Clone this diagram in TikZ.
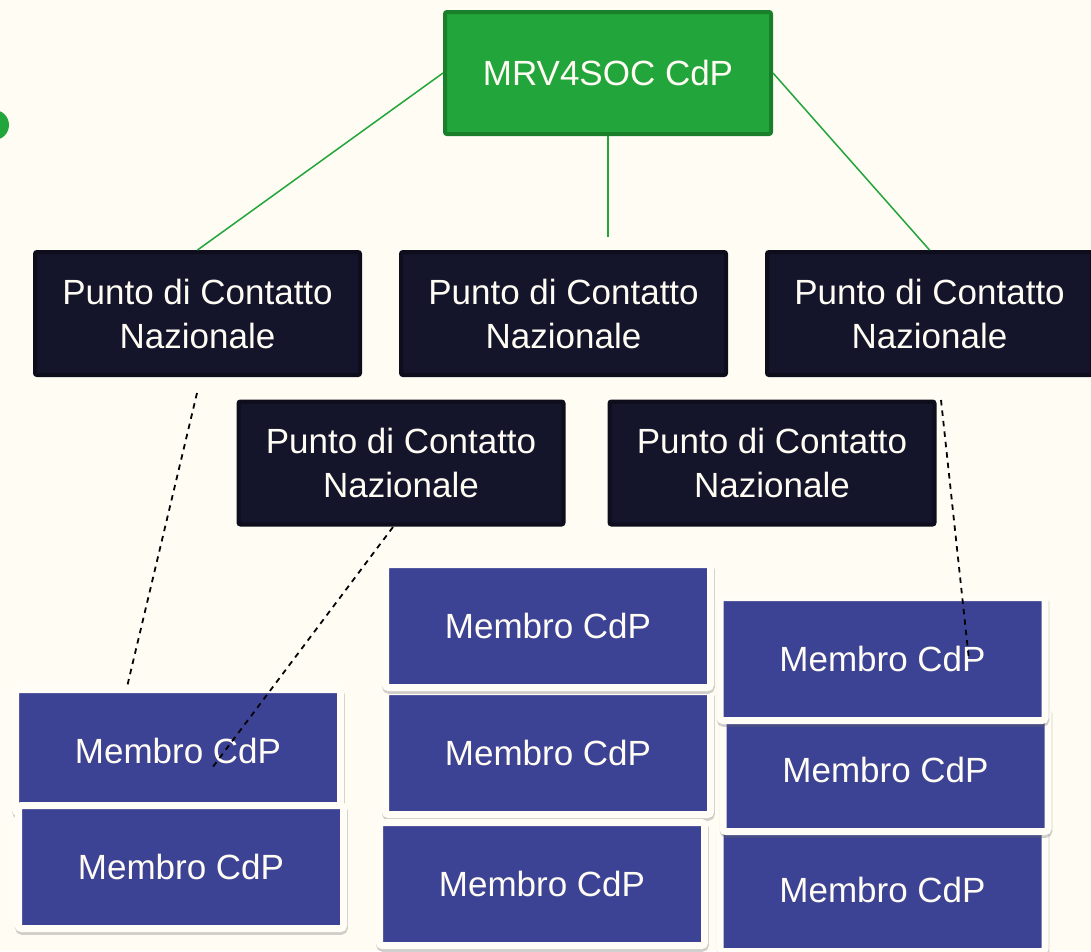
\documentclass[tikz,border=0pt]{standalone}
\usepackage{fontspec}
\setmainfont{Liberation Sans}
\usepackage{xcolor}
\usetikzlibrary{shadows,positioning}
\definecolor{sfondo}{HTML}{FFFCF4}
\definecolor{verde}{HTML}{22A53A}
\definecolor{verdescuro}{HTML}{1A7F2A}
\definecolor{notte}{HTML}{14142A}
\definecolor{nottescura}{HTML}{0D0D1C}
\definecolor{indaco}{HTML}{3D4394}
\definecolor{cornice}{HTML}{FFFDF6}
\newcommand{\pcntext}{Punto di Contatto\\Nazionale}

\begin{document}
\begin{tikzpicture}[x=1pt,y=-1pt,
              every node/.style={font=\fontsize{35}{44}\selectfont, text=sfondo, inner sep=0pt},
              cdpbox/.style={fill=verde, draw=verdescuro, line width=4pt, rounded corners=2pt,
                             minimum width=326pt, minimum height=122pt},
              pcnbox/.style={fill=notte, draw=nottescura, line width=4pt, rounded corners=2pt,
                             minimum width=325pt, minimum height=123pt, align=center},
              membrobox/.style={fill=indaco, draw=cornice, line width=7pt, rounded corners=3pt,
                             minimum width=325pt, minimum height=123pt,
                             drop shadow={shadow xshift=0.5pt, shadow yshift=-2.5pt,
                                          fill=black!60, draw=black!60, line width=7.5pt, opacity=.3}},
              ramo/.style={verde, line width=1.5pt},
              tratteggio/.style={black!85!notte, line width=1.8pt, dash pattern=on 5.5pt off 5pt},
             ]
\useasboundingbox (0,0) rectangle (1091,951);
\fill[sfondo] (0,0) rectangle (1091,951);
\fill[verde] (-6,125) circle (15);

% coordinatore
\node[cdpbox] (cdp) at (608,73) {MRV4SOC CdP};

% punti di contatto nazionali
\node[pcnbox] (pcn1) at (197.5,313.5) {\pcntext};
\node[pcnbox] (pcn2) at (563.5,313.5) {\pcntext};
\node[pcnbox] (pcn3) at (929.5,313.5) {\pcntext};
\node[pcnbox] (pcn4) at (401,463) {\pcntext};
\node[pcnbox] (pcn5) at (772,463) {\pcntext};

% membri
\node[membrobox] (mA) at (178,751) {Membro CdP};
\node[membrobox] (mB) at (181,867) {Membro CdP};
\node[membrobox] (m2) at (548,753) {Membro CdP};
\node[membrobox] (m1) at (548,626) {Membro CdP};
\node[membrobox] (m3) at (542,884) {Membro CdP};
\node[membrobox] (m6) at (882.5,890) {Membro CdP};
\node[membrobox] (m5) at (885.5,770) {Membro CdP};
\node[membrobox] (m4) at (882.5,659) {Membro CdP};

% rami
\coordinate (cfine) at (608,237);
\draw[ramo] (cdp.west) -- (pcn1.north);
\draw[ramo] (cdp.south) -- (cfine);
\draw[ramo] (cdp.east) -- (pcn3.north);

% collegamenti tratteggiati
\coordinate (t1a) at (197,393);
\coordinate (t1b) at (127,687);
\coordinate (t2a) at (393,527);
\coordinate (t2b) at (212,768);
\coordinate (t3a) at (941,400);
\coordinate (t3b) at (969,660);
\draw[tratteggio] (t1a) -- (t1b);
\draw[tratteggio] (t2a) -- (t2b);
\draw[tratteggio] (t3a) -- (t3b);
\end{tikzpicture}
\end{document}
